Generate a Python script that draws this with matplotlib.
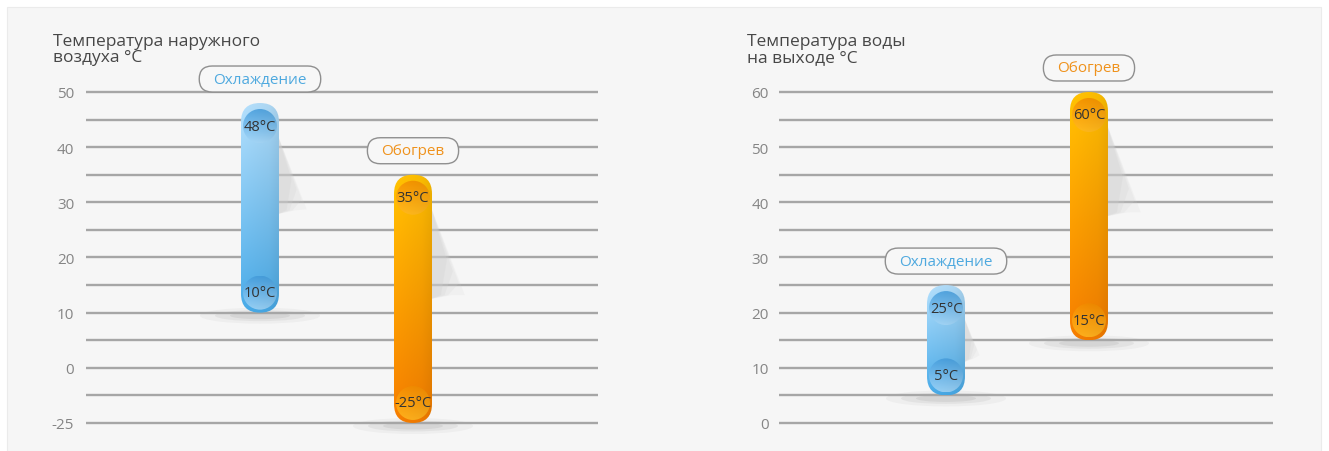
import numpy as np
import matplotlib
matplotlib.use("Agg")
import matplotlib.pyplot as plt
from matplotlib.patches import FancyBboxPatch, Rectangle, Circle, Polygon, Ellipse
from matplotlib.transforms import IdentityTransform
from matplotlib.colors import to_rgb

# ---------------- data ----------------
left_title = "Температура наружного\nвоздуха °C"
left_ticks = [-25, 0, 10, 20, 30, 40, 50]
left_minor = [-12.5, 5, 15, 25, 35, 45]
left_modes = ["Охлаждение", "Обогрев"]
left_low = [10, -25]
left_high = [48, 35]

right_title = "Температура воды\nна выходе °C"
right_ticks = [0, 10, 20, 30, 40, 50, 60]
right_minor = [5, 15, 25, 35, 45, 55]
right_modes = ["Охлаждение", "Обогрев"]
right_low = [5, 15]
right_high = [25, 60]

# ---------------- style ----------------
plt.rcParams["font.family"] = ["Open Sans", "DejaVu Sans"]
W, H = 1329, 452
ID = IdentityTransform()

palettes = {
    "Охлаждение": dict(bar_top="#b0daf6", bar_bot="#46a6e2",
                       knob_top="#4299d8", knob_bot="#a3d3f3",
                       text="#4ea9df"),
    "Обогрев": dict(bar_top="#fcbe02", bar_bot="#f07a00",
                    knob_top="#ef8a00", knob_bot="#fbb622",
                    text="#ef921c"),
}

fig = plt.figure(figsize=(W / 100, H / 100), dpi=100, facecolor="white")
fig.patches.append(Rectangle((7 / W, 0), (1321 - 7) / W, 444 / H,
                             transform=fig.transFigure, facecolor="#f6f6f6",
                             edgecolor="#ebebeb", lw=0.8, zorder=-5))


def px_rect(x0, ytop, x1, ybot):
    return [x0 / W, 1 - ybot / H, (x1 - x0) / W, (ybot - ytop) / H]


def fwd(v):
    v = np.asarray(v, dtype=float)
    return np.where(v >= 0, v, 0.4 * v)


def inv(u):
    u = np.asarray(u, dtype=float)
    return np.where(u >= 0, u, u / 0.4)


axL = fig.add_axes(px_rect(86, 20, 598, 445))
axR = fig.add_axes(px_rect(779, 20, 1273, 445))

axL.set_yscale("function", functions=(fwd, inv))
axL.set_ylim(-34.53, 63.23)
axL.set_xlim(-1.137, 2.209)
axR.set_ylim(-3.81, 73.23)
axR.set_xlim(-1.168, 2.287)


def gradient(ax, x0, y0, x1, y1, c_bot, c_top, clip, zorder, hshade=0.0, alpha=1.0):
    n, m = 120, 24
    t = np.linspace(0, 1, n)[:, None, None]
    cb = np.array(to_rgb(c_bot))
    ct = np.array(to_rgb(c_top))
    arr = cb + (ct - cb) * t
    xs = np.linspace(0, 1, m)[None, :, None]
    shade = 1.0 + 0.06 * (0.5 - xs) - hshade * np.clip(xs - 0.75, 0, 1) * 4
    arr = np.clip(arr * shade, 0, 1)
    tr = ax.transAxes.inverted()
    a0, b0 = tr.transform((x0, y0))
    a1, b1 = tr.transform((x1, y1))
    im = ax.imshow(arr, extent=(a0, a1, b0, b1), transform=ax.transAxes,
                   origin="lower", aspect="auto", interpolation="bilinear",
                   zorder=zorder, alpha=alpha)
    im.set_clip_path(clip)
    return im


def draw_panel(ax, ticks, minor, lows, highs, modes, pad):
    for v in sorted(ticks + minor):
        ax.axhline(v, color="#a6a6a6", lw=1.7, zorder=1, solid_capstyle="butt")
    ax.set_yticks(ticks)
    ax.set_yticklabels([str(t) for t in ticks])
    ax.tick_params(axis="y", length=0, pad=pad, labelsize=11, labelcolor="#858585")
    ax.set_xticks([])
    for s in ax.spines.values():
        s.set_visible(False)
    ax.patch.set_alpha(0)

    renderer = fig.canvas.get_renderer()
    bw = 38.0
    r = 17.0
    for i, (lo, hi, mode) in enumerate(zip(lows, highs, modes)):
        pal = palettes[mode]
        xc, yt = ax.transData.transform((i, hi))
        _, yb = ax.transData.transform((i, lo))
        L = yt - yb
        xl, xr = xc - bw / 2, xc + bw / 2

        # soft shadows
        ys = yt - 30
        ye = ys - 0.34 * L
        dx = 0.12 * L
        for k, a in zip([1.1, 0.9, 0.7, 0.5], [0.14, 0.18, 0.22, 0.25]):
            ax.add_patch(Polygon([(xr - 2, ys), (xr + dx * k, ys - (ys - ye) * (0.3 + 0.7 * k)),
                                  (xr + dx * k * 0.6, ye - 6), (xr - 2, ye - 10)],
                                 closed=True, transform=ID, facecolor="#cfcfcf",
                                 edgecolor="none", alpha=a, zorder=2))
        for ew, eh, a in [(120, 16, 0.10), (90, 11, 0.16), (60, 7, 0.22)]:
            ax.add_patch(Ellipse((xc, yb - 3), ew, eh, transform=ID,
                                 facecolor="#a8a8a8", edgecolor="none",
                                 alpha=a, zorder=2))

        # capsule bar
        cap = FancyBboxPatch((xl, yb), bw, L,
                             boxstyle=f"round,pad=0,rounding_size={bw / 2}",
                             transform=ID, facecolor="none", edgecolor="none")
        gradient(ax, xl, yb, xr, yt, pal["bar_bot"], pal["bar_top"], cap, 3, hshade=0.03)

        # knobs with values
        for val, yk in [(hi, yt - 23), (lo, yb + 20)]:
            knob = Circle((xc, yk), r, transform=ID, facecolor="none", edgecolor="none")
            gradient(ax, xc - r, yk - r, xc + r, yk + r,
                     pal["knob_bot"], pal["knob_top"], knob, 4, alpha=0.85)
            ax.text(xc, yk, f"{val}°C", transform=ID, ha="center", va="center",
                    fontsize=10.5, color="#333333", zorder=6)

        # pill label
        py = yt + 24
        t = ax.text(xc, py, mode, transform=ID, ha="center", va="center",
                    fontsize=11, color=pal["text"], zorder=7)
        ext = t.get_window_extent(renderer=renderer)
        pw, ph = ext.width + 28, 26
        ax.add_patch(FancyBboxPatch((xc - pw / 2, py - ph / 2), pw, ph,
                                    boxstyle=f"round,pad=0,rounding_size={ph / 2}",
                                    transform=ID, facecolor="#f7f7f7",
                                    edgecolor="#8f8f8f", lw=1.0, zorder=6))


draw_panel(axL, left_ticks, left_minor, left_low, left_high, left_modes, 8.5)
draw_panel(axR, right_ticks, right_minor, right_low, right_high, right_modes, 7.5)

fig.text(53 / W, 1 - 34 / H, left_title, ha="left", va="top", fontsize=12.5,
         color="#474747", linespacing=0.98)
fig.text(747 / W, 1 - 34 / H, right_title, ha="left", va="top", fontsize=12.5,
         color="#474747", linespacing=0.98)

fig.savefig("out.png", dpi=100, facecolor=fig.get_facecolor())
